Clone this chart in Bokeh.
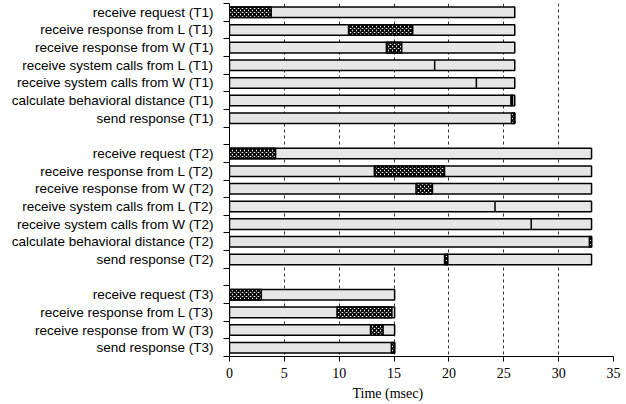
from bokeh.plotting import figure
from bokeh.models import Range1d, FixedTicker, Title, ColumnDataSource
from bokeh.embed import file_html
from bokeh.resources import INLINE

# ---- data (msec) ----
tasks_t1 = ["receive request (T1)", "receive response from L (T1)", "receive response from W (T1)",
            "receive system calls from L (T1)", "receive system calls from W (T1)",
            "calculate behavioral distance (T1)", "send response (T1)"]
hatch_start_t1 = [0.0, 10.85, 14.3, 18.7, 22.5, 25.65, 25.7]
hatch_end_t1 = [3.8, 16.7, 15.7, 18.7, 22.5, 25.8, 26.0]
total_t1 = 26.0

tasks_t2 = ["receive request (T2)", "receive response from L (T2)", "receive response from W (T2)",
            "receive system calls from L (T2)", "receive system calls from W (T2)",
            "calculate behavioral distance (T2)", "send response (T2)"]
hatch_start_t2 = [0.0, 13.2, 17.0, 24.2, 27.5, 32.8, 19.6]
hatch_end_t2 = [4.2, 19.6, 18.5, 24.2, 27.5, 33.0, 19.9]
total_t2 = 33.0

tasks_t3 = ["receive request (T3)", "receive response from L (T3)", "receive response from W (T3)",
            "send response (T3)"]
hatch_start_t3 = [0.0, 9.8, 12.85, 14.75]
hatch_end_t3 = [2.9, 14.8, 14.0, 15.05]
total_t3 = 15.05

x_ticks = [0, 5, 10, 15, 20, 25, 30, 35]

# ---- build rows (a blank row separates the groups) ----
groups = [(tasks_t1, hatch_start_t1, hatch_end_t1, total_t1),
          (tasks_t2, hatch_start_t2, hatch_end_t2, total_t2),
          (tasks_t3, hatch_start_t3, hatch_end_t3, total_t3)]
ys, names, hs, he, tot = [], [], [], [], []
row = 0
for gi, (tk, s, e, t) in enumerate(groups):
    for name, a, b in zip(tk, s, e):
        ys.append(row); names.append(name); hs.append(a); he.append(b); tot.append(t)
        row += 1
    if gi < len(groups) - 1:
        row += 1
n_rows = row

src = ColumnDataSource(dict(y=ys, name=names, hs=hs, he=he, total=tot, zero=[0] * len(ys)))

p = figure(width=623, height=404, output_backend="svg", toolbar_location=None,
           x_range=Range1d(0, 35), y_range=Range1d(n_rows - 0.5, -0.5),
           min_border_left=229, min_border_right=10, min_border_top=3, min_border_bottom=48)
p.outline_line_color = None
p.background_fill_color = "white"

p.hbar(y="y", left="zero", right="total", height=0.6, source=src,
       fill_color="#e6e6e6", line_color="black", line_width=1.5)
p.hbar(y="y", left="hs", right="he", height=0.6, source=src,
       fill_color="white", hatch_pattern="diagonal_cross", hatch_color="black",
       hatch_scale=4, hatch_weight=1.7, line_color="black", line_width=1.5)

# x axis
p.xaxis.ticker = FixedTicker(ticks=x_ticks)
p.xaxis.major_tick_out = 5
p.xaxis.major_tick_in = 0
p.xaxis.minor_tick_out = 0
p.xaxis.minor_tick_in = 0
p.xaxis.major_label_text_font = "Liberation Serif"
p.xaxis.major_label_text_font_size = "14px"
p.xaxis.major_label_text_color = "black"
p.xaxis.major_label_standoff = 6
p.xaxis.axis_line_color = "black"
p.xaxis.major_tick_line_color = "black"

p.xgrid.ticker = FixedTicker(ticks=x_ticks)
p.xgrid.grid_line_color = "#333333"
p.xgrid.grid_line_dash = "3 3"
p.xgrid.grid_line_width = 1
p.ygrid.visible = False

# y axis
p.yaxis.ticker = FixedTicker(ticks=ys, minor_ticks=[r - 0.5 for r in range(n_rows + 1)])
p.yaxis.major_label_overrides = {y: n for y, n in zip(ys, names)}
p.yaxis.major_tick_out = 0
p.yaxis.major_tick_in = 0
p.yaxis.minor_tick_out = 6
p.yaxis.minor_tick_in = 0
p.yaxis.minor_tick_line_color = "black"
p.yaxis.axis_line_color = "black"
p.yaxis.major_label_standoff = 10
p.yaxis.major_label_text_font = "Liberation Sans"
p.yaxis.major_label_text_font_size = "13.5px"
p.yaxis.major_label_text_color = "black"

xtitle = Title(text="Time (msec)", align="left", offset=123, standoff=6,
               text_font="Liberation Serif", text_font_size="14px",
               text_font_style="normal", text_color="black")
p.add_layout(xtitle, "below")

open("out.html", "w").write(file_html(p, INLINE))
